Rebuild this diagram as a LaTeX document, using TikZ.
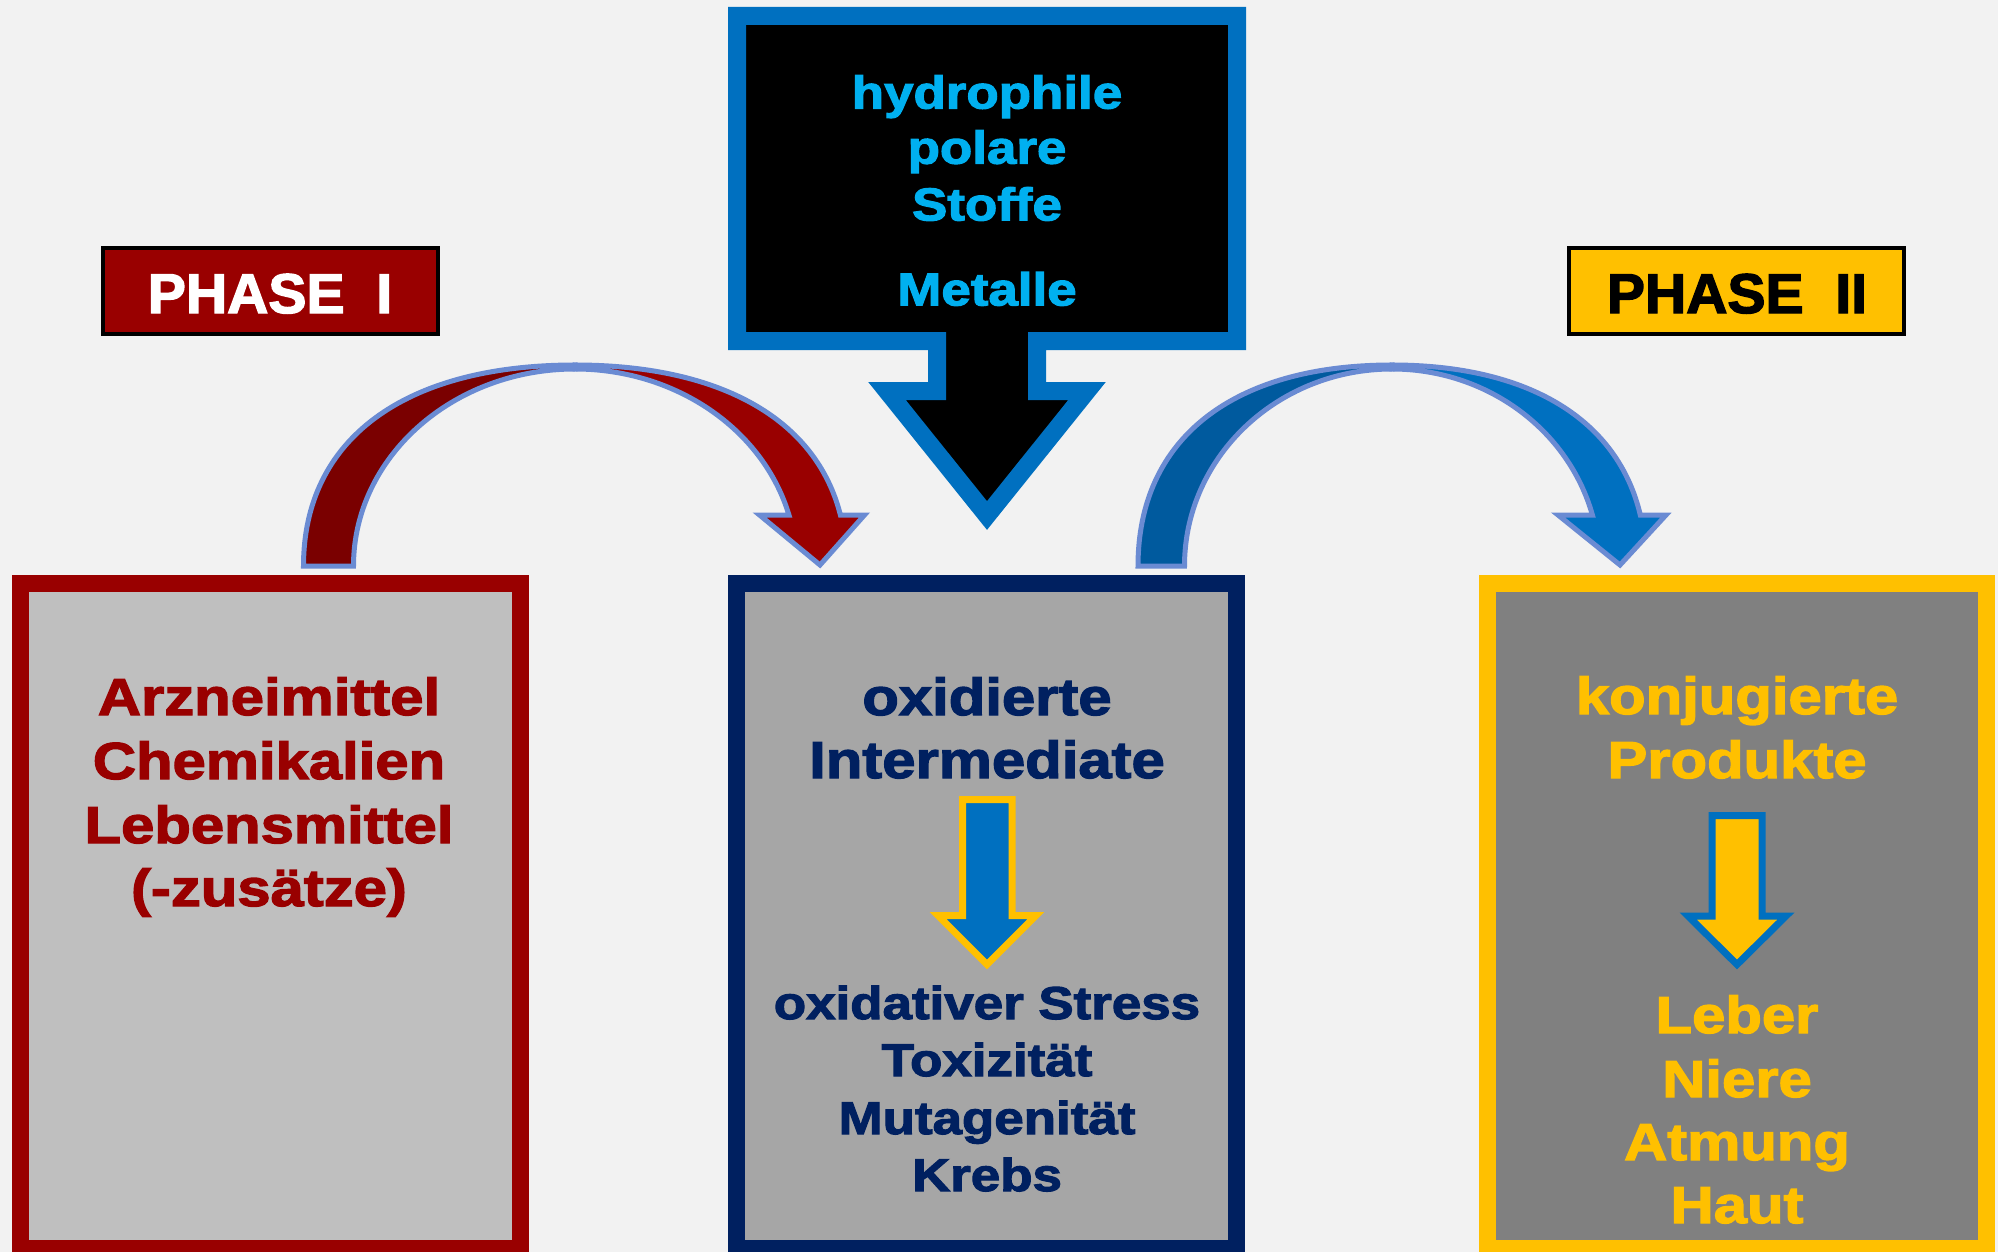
\documentclass[tikz,border=0pt]{standalone}
\usepackage{fontspec}
\newfontfamily\blk{Liberation Sans Bold}[FakeStretch=1.15,FakeBold=2.5]
\newfontfamily\phs{Liberation Sans Bold}[FakeStretch=1.02,FakeBold=2.5]
\definecolor{bg}{HTML}{F2F2F2}
\definecolor{cred}{HTML}{990000}
\definecolor{dred}{HTML}{7A0000}
\definecolor{navy}{HTML}{002060}
\definecolor{gold}{HTML}{FFC000}
\definecolor{cblue}{HTML}{0070C0}
\definecolor{dblue}{HTML}{005A9E}
\definecolor{cyantx}{HTML}{00B0F0}
\definecolor{gA}{HTML}{BFBFBF}
\definecolor{gB}{HTML}{A6A6A6}
\definecolor{gC}{HTML}{808080}
\definecolor{outl}{HTML}{6A8BD3}
\begin{document}
\begin{tikzpicture}[x=0.5pt,y=-0.5pt,
  bigbox/.style={line width=8.5pt},
  smallarrow/.style={line width=3.5pt,miter limit=10},
  curvearrow/.style={draw=outl,line width=2.5pt,line join=miter},
  lbl/.style={anchor=base,inner sep=0pt,font=\blk\fontsize{26}{30}\selectfont},
  lblsmall/.style={anchor=base,inner sep=0pt,font=\blk\fontsize{23}{28}\selectfont},
  phaselbl/.style={anchor=base,inner sep=0pt,font=\phs\fontsize{28}{32}\selectfont}]
\useasboundingbox (0,0) rectangle (1998,1252);
\fill[bg] (0,0) rectangle (1998,1252);
\clip (0,0) rectangle (1998,1252);

% lower boxes
\draw[bigbox,draw=cred,fill=gA] (20.5,583) rectangle (520,1248);
\draw[bigbox,draw=navy,fill=gB] (736.5,583) rectangle (1236.5,1248);
\draw[bigbox,draw=gold,fill=gC] (1487,583) rectangle (1986.5,1248);

% top callout
\draw[line width=9pt,draw=cblue,fill=black,miter limit=10]
  (737,16) -- (1237,16) -- (1237,341) -- (1037,341) -- (1037,391) -- (1087,391)
  -- (987,515.5) -- (887,391) -- (937,391) -- (937,341) -- (737,341) -- cycle;

% phase boxes
\draw[line width=1.75pt,draw=black,fill=cred] (103,248) rectangle (438,334);
\draw[line width=1.75pt,draw=black,fill=gold] (1569,248) rectangle (1904,334);

% left curved arrow
\filldraw[curvearrow,fill=dred] (303.5,566) .. controls (303.5,439.4) and (404,365) .. (575,365)
  -- (575,369) .. controls (452.7,369) and (353.5,457.2) .. (353.5,566) -- cycle;
\filldraw[curvearrow,fill=cred] (575,365) .. controls (721.5,365) and (816.3,419.7) .. (840.4,515)
  -- (864.5,515) -- (820,565) -- (759.5,515) -- (788.95,515)
  arc[start angle=345,end angle=270,x radius=221.5,y radius=197] -- cycle;

% right curved arrow
\filldraw[curvearrow,fill=dblue] (1138,566) .. controls (1138,439.4) and (1232,365) .. (1392,365)
  -- (1392,369) .. controls (1277.4,369) and (1184.5,457.2) .. (1184.5,566) -- cycle;
\filldraw[curvearrow,fill=cblue] (1392,365) .. controls (1529.1,365) and (1617.8,419.7) .. (1640.3,515)
  -- (1666,515) -- (1620,565) -- (1558,515) -- (1592.4,515)
  arc[start angle=345,end angle=270,x radius=207.5,y radius=197] -- cycle;

% small arrows
\draw[smallarrow,draw=gold,fill=cblue] (962.5,799.5) -- (1012,799.5) -- (1012,915.5) -- (1036,915.5)
  -- (987,964.5) -- (938,915.5) -- (962.5,915.5) -- cycle;
\draw[smallarrow,draw=cblue,fill=gold] (1712,815.5) -- (1762,815.5) -- (1762,916) -- (1786,916)
  -- (1737,964.5) -- (1688,916) -- (1712,916) -- cycle;

% phase labels
\node[phaselbl,text=white] (ph1) at (270,313) {PHASE\ \ I};
\node[phaselbl,text=black] (ph2) at (1737,313) {PHASE\ \ II};

% top text
\node[lblsmall,text=cyantx] (t1) at (987,108.5) {hydrophile};
\node[lblsmall,text=cyantx] (t2) at (987,163.6) {polare};
\node[lblsmall,text=cyantx] (t3) at (987,220.4) {Stoffe};
\node[lblsmall,text=cyantx] (t4) at (987,305.4) {Metalle};

% left box text
\node[lbl,text=cred] (l1) at (269,715) {Arzneimittel};
\node[lbl,text=cred] (l2) at (269,779) {Chemikalien};
\node[lbl,text=cred] (l3) at (269,843) {Lebensmittel};
\node[lbl,text=cred] (l4) at (269,906) {(-zusätze)};

% center box text
\node[lbl,text=navy] (c1) at (987,715) {oxidierte};
\node[lbl,text=navy] (c2) at (987,778) {Intermediate};
\node[lblsmall,text=navy] (c3) at (987,1019) {oxidativer Stress};
\node[lblsmall,text=navy] (c4) at (987,1076) {Toxizität};
\node[lblsmall,text=navy] (c5) at (987,1134) {Mutagenität};
\node[lblsmall,text=navy] (c6) at (987,1191) {Krebs};

% right box text
\node[lbl,text=gold] (r1) at (1737,714) {konjugierte};
\node[lbl,text=gold] (r2) at (1737,778) {Produkte};
\node[lbl,text=gold] (r3) at (1737,1033) {Leber};
\node[lbl,text=gold] (r4) at (1737,1097) {Niere};
\node[lbl,text=gold] (r5) at (1737,1160) {Atmung};
\node[lbl,text=gold] (r6) at (1737,1223) {Haut};
\end{tikzpicture}
\end{document}
